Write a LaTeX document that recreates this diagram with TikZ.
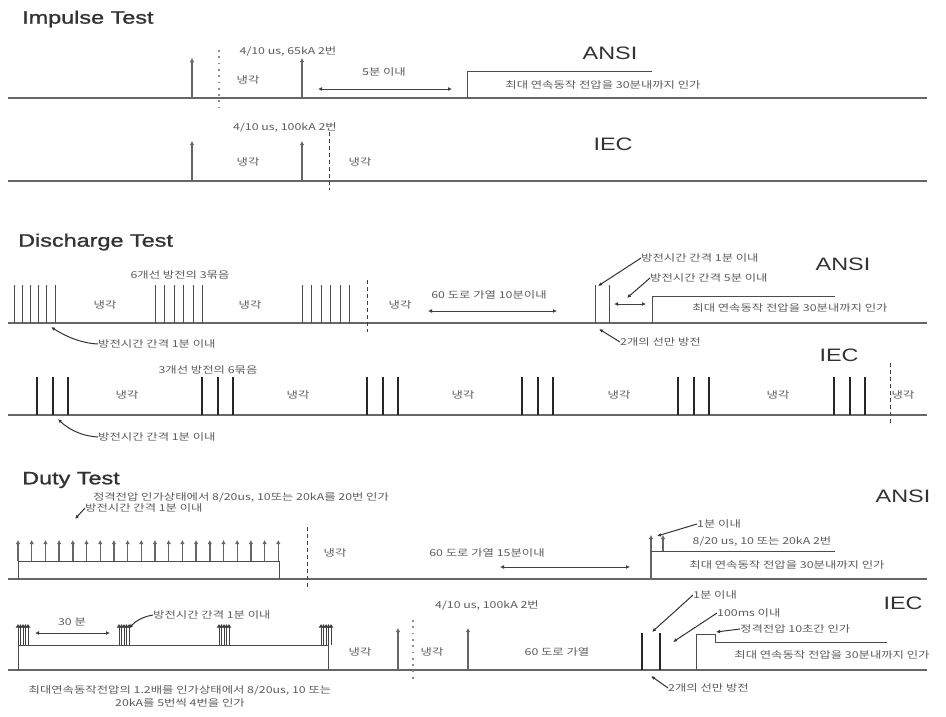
\documentclass[tikz,border=0pt]{standalone}
\usepackage{fontspec}
\setmainfont{Liberation Sans}[FakeStretch=1.3]
\newfontfamily\kr{Noto Sans CJK KR}[FakeStretch=1.3]
\newfontfamily\ttlfont{Liberation Sans}[FakeStretch=1.3, FakeBold=1.2]
\usetikzlibrary{arrows.meta}
\definecolor{lgray}{HTML}{666666}
\definecolor{tgray}{HTML}{5C5C5C}

\begin{document}
\begin{tikzpicture}[x=1pt, y=-1pt,
  base/.style={draw=lgray, line width=1.4pt},
  lvl/.style={draw=black!70, line width=1pt},
  pulse/.style={draw=lgray, line width=1.4pt, -{Latex[length=4pt,width=4.5pt]}},
  pthin/.style={draw=black!75, line width=1pt, -{Latex[length=3.5pt,width=5pt]}},
  thinbar/.style={draw=black!70, line width=0.9pt},
  bar/.style={draw=black!85, line width=2pt},
  dashv/.style={draw=black!75, line width=1pt, dash pattern=on 4pt off 3pt},
  dotv/.style={draw=black!45, line width=1.8pt, dash pattern=on 1.8pt off 4.5pt},
  dbl/.style={draw=black!75, line width=1pt, {Latex[length=4pt,width=4pt]}-{Latex[length=4pt,width=4pt]}},
  lead/.style={draw=black!80, line width=1pt, -{Latex[length=4pt,width=3.5pt]}},
  lbl/.style={font=\kr\fontsize{9.5}{11}\selectfont, text=tgray, inner sep=0pt},
  ttl/.style={font=\ttlfont\fontsize{18}{20}\selectfont, text=black!80, anchor=west, inner sep=0pt},
  std/.style={font=\fontsize{18}{20}\selectfont, text=black!80, inner sep=0pt}]
\useasboundingbox[fill=white] (0,0) rectangle (946,716);

% Impulse Test
\node[ttl] (impT) at (22,19) {Impulse Test};
% ANSI
\draw[base] (8,98) -- (927,98);
\draw[pulse] (192,98) -- (192,58);
\draw[pulse] (302,98) -- (302,58);
\draw[dotv] (219,50) -- (219,108);
\node[lbl] (impA1) at (288,51) {4/10 us, 65kA 2번};
\node[lbl] (impA2) at (248,80) {냉각};
\node[lbl] (impA3) at (384,72) {5분 이내};
\draw[dbl] (318,89) -- (452,89);
\draw[lvl] (467,98) -- (467,71) -- (652,71);
\node[lbl] (impA4) at (603,85) {최대 연속동작 전압을 30분내까지 인가};
\node[std] (impAn) at (610,53) {ANSI};
% IEC
\draw[base] (8,181) -- (927,181);
\draw[pulse] (192,181) -- (192,141);
\draw[pulse] (302,181) -- (302,141);
\draw[dashv] (329,132) -- (329,190);
\node[lbl] (impI1) at (285,127) {4/10 us, 100kA 2번};
\node[lbl] (impI2) at (248,162) {냉각};
\node[lbl] (impI3) at (360,162) {냉각};
\node[std] (impIn) at (613,144) {IEC};

% Discharge Test
\node[ttl] (disT) at (18,242) {Discharge Test};
% ANSI
\draw[base] (8,323) -- (927,323);
\foreach \x in {14,22,30,38,46,55,155,164,174,183,193,202,302,311,321,330,340,349}
  \draw[thinbar] (\x,323) -- (\x,285);
\draw[dashv] (367,280) -- (367,332);
\node[lbl] (disA1) at (180,275) {6개선 방전의 3묶음};
\foreach \x/\n in {105/a,250/b,400/c}
  \node[lbl] (disC\n) at (\x,305) {냉각};
\node[lbl, anchor=west] (disA2) at (98,344) {방전시간 간격 1분 이내};
\draw[lead] (disA2.west) .. controls (78,343) and (62,334) .. (51,327);
\node[lbl] (disA3) at (489,295) {60 도로 가열 10분이내};
\draw[dbl] (428,311) -- (557,311);
\draw[thinbar] (595,323) -- (595,285);
\draw[thinbar] (609,323) -- (609,285);
\draw[dbl] (614,304) -- (646,304);
\draw[lvl] (652,323) -- (652,296) -- (835,296);
\node[lbl] (disA4) at (790,308) {최대 연속동작 전압을 30분내까지 인가};
\node[lbl, anchor=west] (disA5) at (641,258) {방전시간 간격 1분 이내};
\draw[lead] (disA5.west) -- (598,286);
\node[lbl, anchor=west] (disA6) at (650,278) {방전시간 간격 5분 이내};
\draw[lead] (disA6.west) -- (627,298);
\node[lbl, anchor=west] (disA7) at (620,342) {2개의 선만 방전};
\draw[lead] (disA7.west) -- (599,329);
\node[std] (disAn) at (843,264) {ANSI};
% IEC
\draw[base] (8,415) -- (927,415);
\foreach \g in {37,202,367,522,678,834}
  \foreach \d in {0,15.5,31}
    \draw[bar] (\g+\d,415) -- (\g+\d,377);
\foreach \x/\n in {127/a,298/b,463/c,619/d,778/e,903/f}
  \node[lbl] (disD\n) at (\x,395) {냉각};
\draw[dashv] (890,363) -- (890,423);
\node[lbl] (disI1) at (208,370) {3개선 방전의 6묶음};
\node[lbl, anchor=west] (disI2) at (98,437) {방전시간 간격 1분 이내};
\draw[lead] (disI2.west) .. controls (80,436) and (67,428) .. (58,419);
\node[std] (disIn) at (839,355) {IEC};

% Duty Test
\node[ttl] (dutT) at (22,480) {Duty Test};
% ANSI
\draw[base] (8,579) -- (927,579);
\draw[lvl] (18,579) -- (18,561) -- (279,561) -- (279,579);
\foreach \k in {0,...,19}
  \draw[pulse] ({18+13.7*\k},561) -- ({18+13.7*\k},540);
\draw[dashv] (307,527) -- (307,590);
\node[lbl] (dutA0) at (335,553) {냉각};
\node[lbl] (dutA1) at (241,497) {정격전압 인가상태에서 8/20us, 10또는 20kA를 20번 인가};
\node[lbl, anchor=west] (dutA2) at (85,508) {방전시간 간격 1분 이내};
\draw[lead] (dutA2.west) -- (75,519);
\node[lbl] (dutA3) at (487,553) {60 도로 가열 15분이내};
\draw[dbl] (500,567) -- (630,567);
\draw[pulse] (651,579) -- (651,535);
\draw[lvl] (651,551) -- (835,551);
\draw[pulse] (663,551) -- (663,535);
\node[lbl, anchor=west] (dutA4) at (697,524) {1분 이내};
\draw[lead] (dutA4.west) -- (657,536);
\node[lbl] (dutA5) at (762,541) {8/20 us, 10 또는 20kA 2번};
\node[lbl] (dutA6) at (787,565) {최대 연속동작 전압을 30분내까지 인가};
\node[std] (dutAn) at (903,496) {ANSI};
% IEC
\draw[base] (8,670) -- (927,670);
\draw[lvl] (18,670) -- (18,645) -- (328,645) -- (328,670);
\foreach \g in {18,119,219,321}
  \foreach \d in {0,2.5,5,7.5,10}
    \draw[pthin] (\g+\d,645) -- (\g+\d,624);
\node[lbl] (dutI1) at (72,622) {30 분};
\draw[dbl] (35,633) -- (110,633);
\node[lbl, anchor=west] (dutI2) at (153,615) {방전시간 간격 1분 이내};
\draw[lead] (dutI2.west) .. controls (141,617) and (135,622) .. (129,628);
\node[lbl] (dutI3) at (180,690) {최대연속동작전압의 1.2배를 인가상태에서 8/20us, 10 또는};
\node[lbl] (dutI4) at (180,703) {20kA를 5번씩 4번을 인가};
\node[lbl] (dutI5) at (360,652) {냉각};
\node[lbl] (dutI6) at (432,652) {냉각};
\draw[pulse] (398,670) -- (398,628);
\draw[pulse] (468,670) -- (468,628);
\draw[dotv] (413,620) -- (413,680);
\node[lbl] (dutI7) at (487,605) {4/10 us, 100kA 2번};
\node[lbl] (dutI8) at (557,652) {60 도로 가열};
\draw[bar] (642,670) -- (642,633);
\draw[bar] (660,670) -- (660,633);
\draw[lvl] (696,670) -- (696,634) -- (715,634) -- (715,642) -- (887,642);
\node[lbl, anchor=west] (dutI9) at (693,595) {1분 이내};
\draw[lead] (dutI9.west) -- (652,632);
\node[lbl, anchor=west] (dutI10) at (717,613) {100ms 이내};
\draw[lead] (dutI10.west) -- (673,642);
\node[lbl, anchor=west] (dutI11) at (740,629) {정격전압 10초간 인가};
\draw[lead] (dutI11.west) -- (716,632);
\node[lbl] (dutI12) at (832,655) {최대 연속동작 전압을 30분내까지 인가};
\node[lbl, anchor=west] (dutI13) at (668,688) {2개의 선만 방전};
\draw[lead] (dutI13.west) -- (651,676);
\node[std] (dutIn) at (903,603) {IEC};
\end{tikzpicture}
\end{document}
